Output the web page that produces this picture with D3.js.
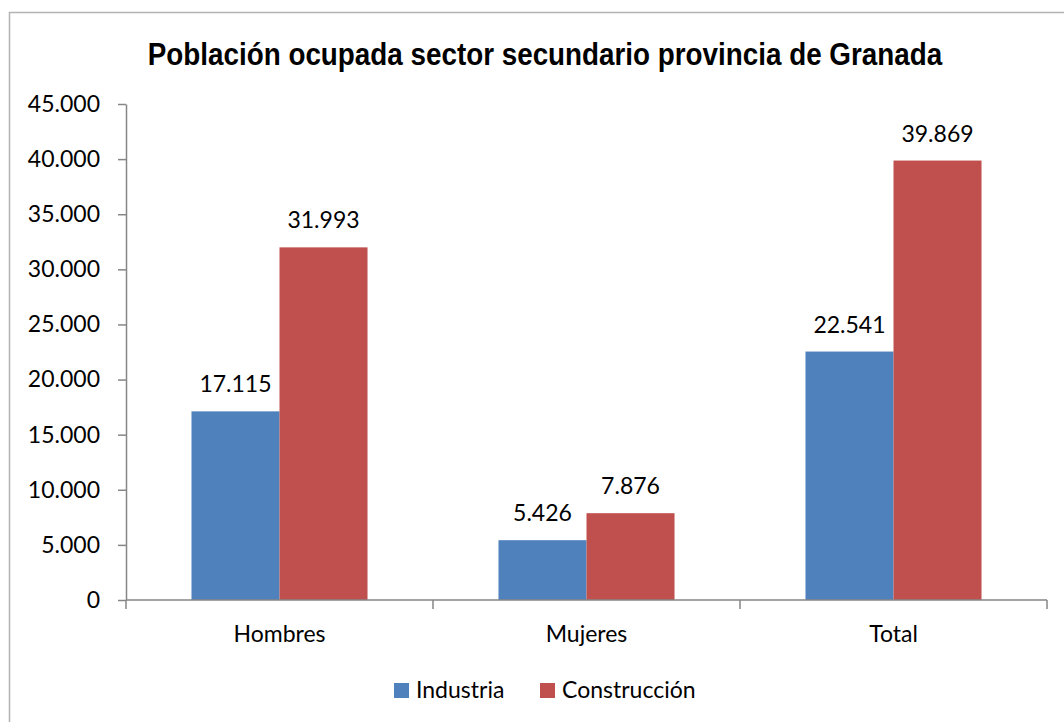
<!DOCTYPE html>
<html>
<head>
<meta charset="utf-8">
<script src="https://cdn.jsdelivr.net/npm/d3@7"></script>
<style>
  html, body { margin: 0; padding: 0; background: #fff; }
  svg { display: block; }
  .lbl { font-family: Lato, "Open Sans", sans-serif; fill: #000; }
</style>
</head>
<body>
<svg id="chart" width="1064" height="722"></svg>
<script>
// Población ocupada en el sector secundario (Granada)
const categories = ["Hombres", "Mujeres", "Total"];
const seriesNames = ["Industria", "Construcción"];
const industria = [17115, 5426, 22541];
const construccion = [31993, 7876, 39869];
const yTicks = [0, 5000, 10000, 15000, 20000, 25000, 30000, 35000, 40000, 45000];
const titleText = "Población ocupada sector secundario provincia de Granada";

const colors = ["#4F81BD", "#C0504D"];
const seriesValues = [industria, construccion];

const svg = d3.select("#chart");
const fontSize = 23;

// Spanish number formatting: dot as thousands separator
const fmt = d3.formatLocale({ decimal: ",", thousands: ".", grouping: [3], currency: ["", " €"] }).format(",d");

// Outer frame
svg.append("path")
  .attr("d", "M9.5,730 V12.5 H1070")
  .attr("fill", "none")
  .attr("stroke", "#b3b3b3")
  .attr("stroke-width", 1.5);

// Title, drawn in a condensed bold face (horizontally compressed sans bold)
const titleG = svg.append("g").attr("transform", "translate(545,65)");
const title = titleG.append("text")
  .attr("text-anchor", "middle")
  .style("font-family", "'Liberation Sans Narrow', 'Arial Narrow', 'Liberation Sans', Arial, sans-serif")
  .style("font-weight", "bold")
  .style("font-size", "31px")
  .text(titleText);
const titleWidth = title.node().getComputedTextLength();
const targetWidth = 795;
if (titleWidth > targetWidth) title.attr("transform", `scale(${targetWidth / titleWidth},1)`);

const plot = { left: 126, right: 1047, top: 104, bottom: 600 };

const x0 = d3.scaleBand().domain(categories).range([plot.left, plot.right]).padding(0);
const x1 = d3.scaleBand().domain(seriesNames).range([0, x0.bandwidth()]).paddingInner(0).paddingOuter(0.744);
const y = d3.scaleLinear().domain([0, 45000]).range([plot.bottom, plot.top]);

// Bars
const rows = categories.map((c, i) => ({ cat: c, vals: seriesNames.map((s, j) => ({ s, j, v: seriesValues[j][i] })) }));
const groups = svg.append("g").selectAll("g").data(rows).join("g")
  .attr("transform", d => `translate(${x0(d.cat)},0)`);
groups.selectAll("rect").data(d => d.vals).join("rect")
  .attr("x", d => x1(d.s))
  .attr("width", x1.bandwidth())
  .attr("y", d => y(d.v))
  .attr("height", d => y(0) - y(d.v))
  .attr("fill", d => colors[d.j]);

// Value labels
groups.selectAll("text").data(d => d.vals).join("text")
  .attr("class", "lbl")
  .attr("x", d => x1(d.s) + x1.bandwidth() / 2)
  .attr("y", d => y(d.v) - 19)
  .attr("text-anchor", "middle")
  .style("font-size", fontSize + "px")
  .text(d => fmt(d.v));

// Y axis
const yAxis = svg.append("g")
  .attr("transform", `translate(${plot.left},0)`)
  .call(d3.axisLeft(y).tickValues(yTicks).tickFormat(fmt).tickSize(8).tickSizeOuter(0).tickPadding(18));
yAxis.select(".domain").attr("stroke", "#868686").attr("stroke-width", 1.5);
yAxis.selectAll(".tick line").attr("stroke", "#868686").attr("stroke-width", 1.5);
yAxis.selectAll(".tick text").attr("class", "lbl").style("font-size", fontSize + "px").attr("fill", "#000");

// X axis with ticks at category boundaries
const xAxis = svg.append("g").attr("transform", `translate(0,${plot.bottom})`);
xAxis.append("line")
  .attr("x1", plot.left).attr("x2", plot.right)
  .attr("stroke", "#868686").attr("stroke-width", 1.5);
const boundaries = categories.map(c => x0(c) + x0.bandwidth()).concat([x0(categories[0])]);
xAxis.selectAll("line.tk").data(boundaries).join("line")
  .attr("class", "tk")
  .attr("x1", d => d).attr("x2", d => d)
  .attr("y1", 0).attr("y2", 9)
  .attr("stroke", "#868686").attr("stroke-width", 1.5);
xAxis.selectAll("text").data(categories).join("text")
  .attr("class", "lbl")
  .attr("x", d => x0(d) + x0.bandwidth() / 2)
  .attr("y", 42)
  .attr("text-anchor", "middle")
  .style("font-size", fontSize + "px")
  .text(d => d);

// Legend
const legendX = [394, 540];
const legend = svg.append("g").selectAll("g").data(seriesNames).join("g")
  .attr("transform", (d, i) => `translate(${legendX[i]},683)`);
legend.append("rect").attr("width", 15).attr("height", 15).attr("fill", (d, i) => colors[i]);
legend.append("text")
  .attr("class", "lbl")
  .attr("x", 22).attr("y", 15)
  .style("font-size", fontSize + "px")
  .text(d => d);
</script>
</body>
</html>
